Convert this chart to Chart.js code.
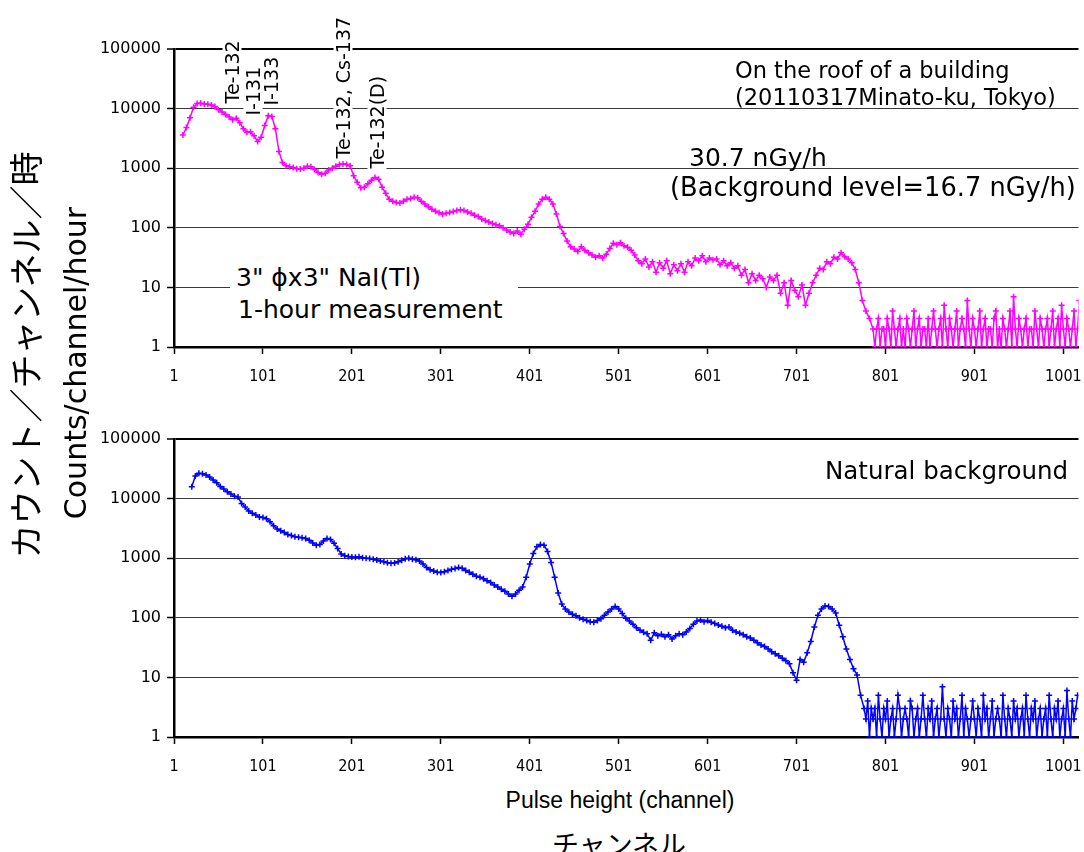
<!DOCTYPE html>
<html>
<head>
<meta charset="utf-8">
<script src="https://cdn.jsdelivr.net/npm/chart.js@4.4.1/dist/chart.umd.min.js"></script>
<style>
  body { margin: 0; background: #fff; }
  #wrap { position: relative; width: 1084px; height: 852px; overflow: hidden; font-family: 'DejaVu Sans', sans-serif; color: #000; }
  .box { position: absolute; left: 0; width: 1084px; height: 395px; }
  .txt { position: absolute; white-space: nowrap; line-height: 1; transform: translateY(-50%); }
  .rot { position: absolute; white-space: nowrap; line-height: 1; background: #fff; padding: 0 2px;
         transform-origin: 0 50%; transform: rotate(-90deg); font-size: 19px; }
  .mid { position: absolute; white-space: nowrap; line-height: 1; transform: translate(-50%, -50%); }
  .vert { position: absolute; white-space: nowrap; line-height: 1; transform: translate(-50%, -50%) rotate(-90deg); }
</style>
</head>
<body>
<div id="wrap">
  <div class="box" style="top:0"><canvas id="roofChart" width="1084" height="395"></canvas></div>
  <div class="box" style="top:390px"><canvas id="bgChart" width="1084" height="395"></canvas></div>

  <!-- nuclidios no espectro de cima -->
  <div class="rot" style="left:232px; top:95.5px;">Te-132</div>
  <div class="rot" style="left:253px; top:107.5px;">I-131</div>
  <div class="rot" style="left:271px; top:97.5px;">I-133</div>
  <div class="rot" style="left:343px; top:150.5px;">Te-132, Cs-137</div>
  <div class="rot" style="left:377px; top:160.5px;">Te-132(D)</div>

  <div class="txt" style="left:735px; top:70px; font-size:22.5px;">On the roof of a building</div>
  <div class="txt" style="left:735px; top:97px; font-size:22.5px;">(20110317Minato-ku, Tokyo)</div>
  <div class="txt" style="left:689px; top:157px; font-size:25px;">30.7 nGy/h</div>
  <div class="txt" style="left:670px; top:188px; font-size:25.7px;">(Background level=16.7 nGy/h)</div>

  <div style="position:absolute; left:230px; top:262px; width:288px; height:62px; background:#fff;"></div>
  <div class="txt" style="left:236px; top:277px; font-size:25px;">3" ϕx3" NaI(Tl)</div>
  <div class="txt" style="left:238px; top:309px; font-size:25px;">1-hour measurement</div>

  <div class="txt" style="left:825px; top:471px; font-size:24.5px;">Natural background</div>

  <div class="vert" style="left:25px; top:355px; font-size:34px; font-family:'Noto Sans CJK JP', sans-serif;">カウント／チャンネル／時</div>
  <div class="vert" style="left:76px; top:363px; font-size:30px;">Counts/channel/hour</div>
  <div class="mid" style="left:620px; top:800px; font-size:23px; font-family:'Liberation Sans', sans-serif;">Pulse height (channel)</div>
  <div class="mid" style="left:619px; top:843px; font-size:27px; font-family:'Noto Sans CJK JP', sans-serif;">チャンネル</div>
</div>

<script>
// eixos
var xTicks = [1, 101, 201, 301, 401, 501, 601, 701, 801, 901, 1001];
var yTicks = [1, 10, 100, 1000, 10000, 100000];

// telhado, 2011-03-17 (contagens/canal/hora): canais 11, 15, ... 787
var roofStart = 11;
var roofStep = 4;
var roofCounts = [
  3600, 4800, 7000, 10500, 12200, 12300, 12000, 11800, 11500, 10800,
  9600, 8800, 8000, 7200, 6500, 6900, 5800, 4600, 4000, 4100,
  3500, 2800, 3300, 5200, 7600, 7400, 4600, 1900, 1250, 1100,
  1060, 1030, 980, 970, 1000, 1080, 1060, 950, 850, 790,
  820, 930, 1000, 1080, 1150, 1180, 1150, 1100, 750, 580,
  470, 480, 550, 630, 700, 650, 480, 380, 300, 280,
  265, 260, 280, 300, 310, 325, 320, 280, 250, 225,
  205, 190, 178, 170, 175, 180, 188, 195, 200, 196,
  185, 175, 162, 154, 140, 132, 125, 118, 112, 108,
  100, 92, 85, 80, 88, 78, 95, 115, 150, 190,
  250, 300, 325, 300, 250, 170, 105, 80, 60, 48,
  44, 40, 48, 42, 38, 35, 32, 34, 31, 36,
  45, 55, 52, 56, 50, 47, 42, 35, 28, 25,
  30, 22, 27, 18, 26, 21, 28, 17, 24, 19,
  25, 18, 27, 23, 31, 28, 34, 27, 31, 29,
  30, 24, 28, 23, 26, 21, 23, 16, 20, 12,
  17, 13, 16, 14, 10, 15, 13, 16, 8, 12,
  5, 13, 9, 7, 11, 5, 8, 12, 16, 21,
  20, 27, 25, 32, 30, 38, 33, 30, 26, 20,
  12, 6, 4, 3, 2
];
// cauda ruidosa do telhado: canais 789, 791, ... 1019
var roofTailStart = 789;
var roofTailStep = 2;
var roofTail = [
  1, 2, 3, 1, 2, 2, 1, 3, 2, 1, 4, 2, 1, 2, 3, 1, 2, 1, 3, 2,
  1, 2, 4, 1, 2, 3, 1, 2, 2, 1, 3, 1, 2, 4, 2, 1, 2, 3, 1, 5,
  2, 1, 3, 2, 1, 2, 4, 1, 2, 3, 2, 1, 6, 2, 1, 3, 2, 1, 2, 4,
  1, 2, 3, 1, 2, 2, 1, 3, 4, 1, 2, 1, 3, 2, 1, 2, 4, 1, 7, 2,
  1, 3, 2, 1, 2, 3, 1, 2, 2, 1, 4, 2, 1, 3, 2, 1, 2, 3, 1, 2,
  4, 1, 2, 3, 1, 5, 2, 1, 3, 2, 1, 2, 4, 1, 2, 6
];

// fundo natural: canais 21, 25, ... 777
var bgStart = 21;
var bgStep = 4;
var bgCounts = [
  15800, 24000, 26500, 26000, 25000, 23000, 20500, 18500, 16000, 14500,
  13000, 12000, 11000, 10600, 8300, 7200, 6200, 5700, 5300, 4900,
  4800, 4600, 4100, 3500, 3100, 2900, 2700, 2500, 2400, 2300,
  2250, 2200, 2150, 2000, 1800, 1650, 1700, 1950, 2150, 2050,
  1780, 1450, 1180, 1100, 1070, 1050, 1040, 1060, 1020, 1000,
  990, 960, 930, 900, 870, 840, 820, 830, 870, 920,
  980, 1000, 960, 940, 900, 800, 700, 640, 610, 580,
  575, 590, 620, 650, 670, 700, 680, 620, 580, 540,
  500, 480, 450, 420, 390, 355, 330, 300, 280, 250,
  230, 250, 290, 330, 480, 800, 1200, 1550, 1700, 1650,
  1300, 850, 480, 260, 170, 140, 125, 115, 108, 100,
  95, 90, 86, 84, 90, 96, 110, 125, 140, 155,
  140, 118, 98, 88, 78, 68, 62, 57, 54, 42,
  56, 50, 53, 48, 52, 44, 50, 54, 52, 58,
  66, 78, 88, 92, 86, 90, 84, 80, 76, 72,
  68, 70, 62, 58, 55, 52, 48, 46, 42, 38,
  35, 33, 30, 27, 25, 23, 21, 19, 17, 12,
  9, 20, 18, 26, 40, 70, 110, 140, 158, 155,
  140, 120, 75, 48, 30, 20, 14, 11, 5, 3
];
// cauda ruidosa do fundo: canais 779, 781, ... 1017
var bgTailStart = 779;
var bgTailStep = 2;
var bgTail = [
  2, 4, 1, 3, 2, 3, 1, 5, 2, 1, 3, 2, 4, 1, 2, 3, 1, 2, 5, 3,
  1, 2, 3, 2, 1, 4, 3, 1, 2, 3, 1, 2, 5, 2, 1, 3, 2, 4, 1, 2,
  3, 1, 2, 7, 2, 1, 3, 2, 1, 4, 2, 3, 1, 2, 5, 1, 3, 2, 1, 2,
  4, 2, 1, 3, 2, 1, 5, 2, 3, 1, 2, 4, 1, 2, 3, 2, 1, 5, 2, 1,
  3, 2, 1, 4, 2, 3, 1, 2, 3, 1, 5, 2, 1, 3, 2, 4, 1, 2, 3, 1,
  2, 3, 1, 5, 2, 1, 3, 2, 4, 1, 2, 3, 1, 6, 2, 1, 4, 2, 3, 5
];

function toPoints(start, step, counts) {
  return counts.map(function (v, i) {
    return { x: start + i * step, y: v };
  });
}

function makeOptions() {
  return {
    responsive: false,
    animation: false,
    events: [],
    layout: { padding: { top: 49, left: 0, right: 0, bottom: 0 } },
    plugins: { legend: { display: false }, tooltip: { enabled: false } },
    scales: {
      x: {
        type: 'linear',
        min: 1,
        max: 1018,
        afterBuildTicks: function (axis) {
          axis.ticks = xTicks.map(function (v) { return { value: v }; });
        },
        afterFit: function (axis) { axis.height = 48; },
        grid: { drawOnChartArea: false, drawTicks: true, tickLength: 7, tickColor: '#000', tickWidth: 1.5 },
        border: { display: true, color: '#000', width: 2.5 },
        ticks: {
          padding: 0,
          color: '#000',
          maxRotation: 0,
          autoSkip: false,
          font: { family: "'Liberation Sans Narrow', 'DejaVu Sans Condensed', sans-serif", size: 16, lineHeight: 2.9 },
          callback: function (v) { return String(v); }
        }
      },
      y: {
        type: 'logarithmic',
        min: 1,
        max: 100000,
        afterBuildTicks: function (axis) {
          axis.ticks = yTicks.map(function (v) { return { value: v }; });
        },
        afterFit: function (axis) { axis.width = 174; },
        grid: {
          color: function (c) { return c.tick && c.tick.value === 100000 ? '#000' : '#3a3a3a'; },
          lineWidth: function (c) { return c.tick && c.tick.value === 100000 ? 2 : 1; },
          tickLength: 7,
          tickColor: '#000',
          tickWidth: 1.5
        },
        border: { display: true, color: '#000', width: 2.5 },
        ticks: {
          padding: 6,
          color: '#000',
          font: { family: "'DejaVu Sans', sans-serif", size: 16 },
          callback: function (v) { return String(v); }
        }
      }
    }
  };
}

function makeDataset(label, points, color) {
  return {
    label: label,
    data: points,
    borderColor: color,
    backgroundColor: color,
    borderWidth: 1.5,
    pointStyle: 'cross',
    pointRadius: 3,
    pointBorderWidth: 1.5,
    pointBorderColor: color,
    tension: 0
  };
}

var roofPoints = toPoints(roofStart, roofStep, roofCounts).concat(toPoints(roofTailStart, roofTailStep, roofTail));
var bgPoints = toPoints(bgStart, bgStep, bgCounts).concat(toPoints(bgTailStart, bgTailStep, bgTail));

// grafico de cima (telhado)
new Chart(document.getElementById('roofChart'), {
  type: 'line',
  data: { datasets: [makeDataset('On the roof of a building', roofPoints, '#ff00ff')] },
  options: makeOptions()
});

// grafico de baixo (fundo natural)
new Chart(document.getElementById('bgChart'), {
  type: 'line',
  data: { datasets: [makeDataset('Natural background', bgPoints, '#0000ff')] },
  options: makeOptions()
});
</script>
</body>
</html>
